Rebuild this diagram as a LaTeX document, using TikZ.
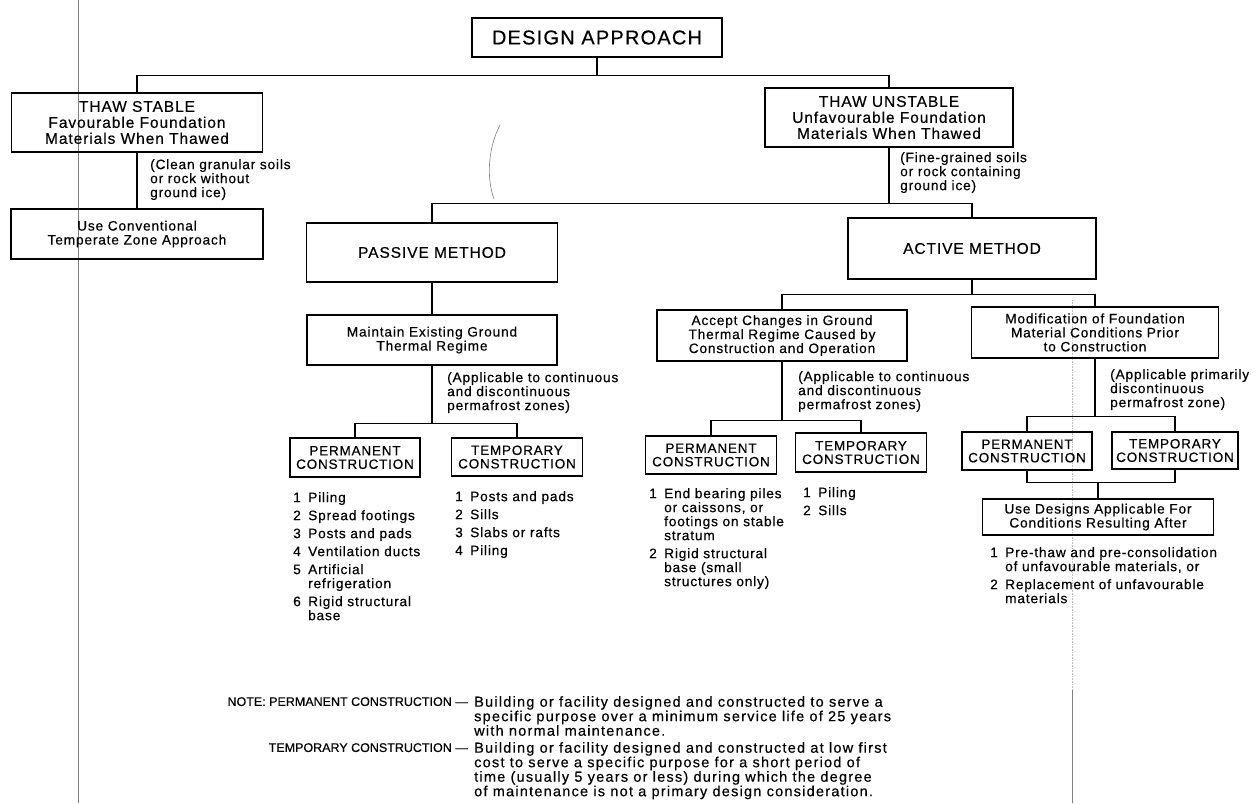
\documentclass[tikz,border=0pt]{standalone}
\usepackage{fontspec}
\setmainfont{Liberation Sans}[LetterSpace=6, FakeBold=0.4]
\newcommand{\itm}[2]{\makebox[15pt][l]{#1}#2}
\newcommand{\ind}{\hspace*{15pt}}
\tikzset{tbox/.style={draw, line width=1.4pt, align=center, inner sep=0pt},
    headbox/.style={tbox, line width=1.6pt, font=\fontsize{20}{24}\selectfont},
    thawbox/.style={tbox, font=\fontsize{15.5}{16}\selectfont},
    methodbox/.style={tbox, font=\fontsize{15.5}{18}\selectfont},
    textbox/.style={tbox, font=\fontsize{13.7}{14}\selectfont},
    constrbox/.style={tbox, line width=1.7pt, font=\fontsize{13.5}{13.5}\selectfont},
    remark/.style={anchor=north west, align=left, inner sep=0pt,
        font=\fontsize{13.7}{14}\selectfont},
    notetext/.style={remark,
        font=\fontsize{14.5}{14.5}\selectfont\addfontfeatures{LetterSpace=8.5}},
    notelabel/.style={anchor=north east, inner sep=0pt,
        font=\fontsize{12.5}{14}\selectfont\addfontfeatures{LetterSpace=0}},
    link/.style={line width=1.1pt},
    scanmark/.style={gray, line width=0.6pt},
    }
\begin{document}
\begin{tikzpicture}[x=1pt,y=-1pt]
\useasboundingbox[fill=white] (0,0) rectangle (1260,803);

\draw[scanmark] (78,0) -- (78,803);
\draw[scanmark] (500,125) .. controls (487,150) and (487,180) .. (494,199);
\draw[scanmark, gray!50, densely dotted] (1072,300) -- (1072,690);
\draw[scanmark] (1072,690) -- (1072,803);

\node[headbox, minimum width=250pt, minimum height=39pt] (design) at (597,37.5) {DESIGN APPROACH};

\node[thawbox, minimum width=251pt, minimum height=59pt] (stable) at (137,122.5)
    {THAW STABLE\\Favourable Foundation\\Materials When Thawed};
\node[textbox, minimum width=252pt, minimum height=50pt] (conv) at (137,234)
    {Use Conventional\\Temperate Zone Approach};
\node[thawbox, minimum width=248pt, minimum height=59pt] (unstable) at (889,117.5)
    {THAW UNSTABLE\\Unfavourable Foundation\\Materials When Thawed};

\node[methodbox, minimum width=251pt, minimum height=59pt] (passive) at (432,252.5) {PASSIVE METHOD};
\node[methodbox, minimum width=248pt, minimum height=61pt] (active) at (972,248.5) {ACTIVE METHOD};

\node[textbox, minimum width=250pt, minimum height=50pt] (maintain) at (432,340)
    {Maintain Existing Ground\\Thermal Regime};
\node[textbox, minimum width=250pt, minimum height=51pt] (accept) at (782,335.5)
    {Accept Changes in Ground\\Thermal Regime Caused by\\Construction and Operation};
\node[textbox, minimum width=247pt, minimum height=51pt] (modif) at (1095,332.5)
    {Modification of Foundation\\Material Conditions Prior\\to Construction};

\node[constrbox, minimum width=130pt, minimum height=39pt] (pperm) at (355,457.5) {PERMANENT\\CONSTRUCTION};
\node[constrbox, minimum width=131pt, minimum height=38pt] (ptemp) at (517,457) {TEMPORARY\\CONSTRUCTION};
\node[constrbox, minimum width=131pt, minimum height=38pt] (aperm) at (711,455) {PERMANENT\\CONSTRUCTION};
\node[constrbox, minimum width=131pt, minimum height=39pt] (atemp) at (861,452.5) {TEMPORARY\\CONSTRUCTION};
\node[constrbox, minimum width=130pt, minimum height=38pt] (mperm) at (1027,451) {PERMANENT\\CONSTRUCTION};
\node[constrbox, minimum width=126pt, minimum height=37pt] (mtemp) at (1175,450.5) {TEMPORARY\\CONSTRUCTION};

\node[textbox, minimum width=231pt, minimum height=36pt] (usedes) at (1098,517)
    {Use Designs Applicable For\\Conditions Resulting After};

\node[remark] (snote) at (150,159) {(Clean granular soils\\or rock without\\ground ice)};
\node[remark] (unote) at (900,152) {(Fine-grained soils\\or rock containing\\ground ice)};
\node[remark] (pnote) at (447,372) {(Applicable to continuous\\and discontinuous\\permafrost zones)};
\node[remark] (anote) at (798,371) {(Applicable to continuous\\and discontinuous\\permafrost zones)};
\node[remark] (mnote) at (1110,369) {(Applicable primarily\\discontinuous\\permafrost zone)};

\node[remark] (plist) at (293,492) {\itm{1}{Piling}\\[4pt]
    \itm{2}{Spread footings}\\[4pt]
    \itm{3}{Posts and pads}\\[4pt]
    \itm{4}{Ventilation ducts}\\[4pt]
    \itm{5}{Artificial}\\ \ind refrigeration\\[4pt]
    \itm{6}{Rigid structural}\\ \ind base};
\node[remark] (tlist) at (455,491) {\itm{1}{Posts and pads}\\[4pt]
    \itm{2}{Sills}\\[4pt]
    \itm{3}{Slabs or rafts}\\[4pt]
    \itm{4}{Piling}};
\node[remark] (aplist) at (649,488) {\itm{1}{End bearing piles}\\ \ind or caissons, or\\
    \ind footings on stable\\ \ind stratum\\[4pt]
    \itm{2}{Rigid structural}\\ \ind base (small\\ \ind structures only)};
\node[remark] (atlist) at (803,487) {\itm{1}{Piling}\\[4pt]
    \itm{2}{Sills}};
\node[remark] (mlist) at (990,547) {\itm{1}{Pre-thaw and pre-consolidation}\\
    \ind of unfavourable materials, or\\[4pt]
    \itm{2}{Replacement of unfavourable}\\ \ind materials};

\node[notelabel] (npermlabel) at (468,697) {NOTE: PERMANENT CONSTRUCTION —};
\node[notetext] (nperm) at (474,696) {Building or facility designed and constructed to serve a\\
    specific purpose over a minimum service life of 25 years\\
    with normal maintenance.};
\node[notelabel] (ntemplabel) at (468,743) {TEMPORARY CONSTRUCTION —};
\node[notetext] (ntemp) at (474,742) {Building or facility designed and constructed at low first\\
    cost to serve a specific purpose for a short period of\\
    time (usually 5 years or less) during which the degree\\
    of maintenance is not a primary design consideration.};

\draw[link] (design.south) -- ++(0,18) -| (stable.north);
\draw[link] (design.south) -- ++(0,18) -| (unstable.north);
\draw[link] (stable.south) -- (conv.north);
\draw[link] (unstable.south) -- ++(0,56) -| (passive.north);
\draw[link] (unstable.south) -- ++(0,56) -| (active.north);
\draw[link] (passive.south) -- (maintain.north);
\draw[link] (maintain.south) -- ++(0,58) -| (pperm.north);
\draw[link] (maintain.south) -- ++(0,58) -| (ptemp.north);
\draw[link] (active.south) -- ++(0,15) -| (accept.north);
\draw[link] (active.south) -- ++(0,15) -| (modif.north);
\draw[link] (accept.south) -- ++(0,59) -| (aperm.north);
\draw[link] (accept.south) -- ++(0,59) -| (atemp.north);
\draw[link] (modif.south) -- ++(0,58) -| (mperm.north);
\draw[link] (modif.south) -- ++(0,58) -| (mtemp.north);
\draw[link] (mperm.south) -- ++(0,12) coordinate (mbus) -| (mtemp.south);
\draw[link] (usedes.north) -- (usedes.north |- mbus);
\end{tikzpicture}
\end{document}
